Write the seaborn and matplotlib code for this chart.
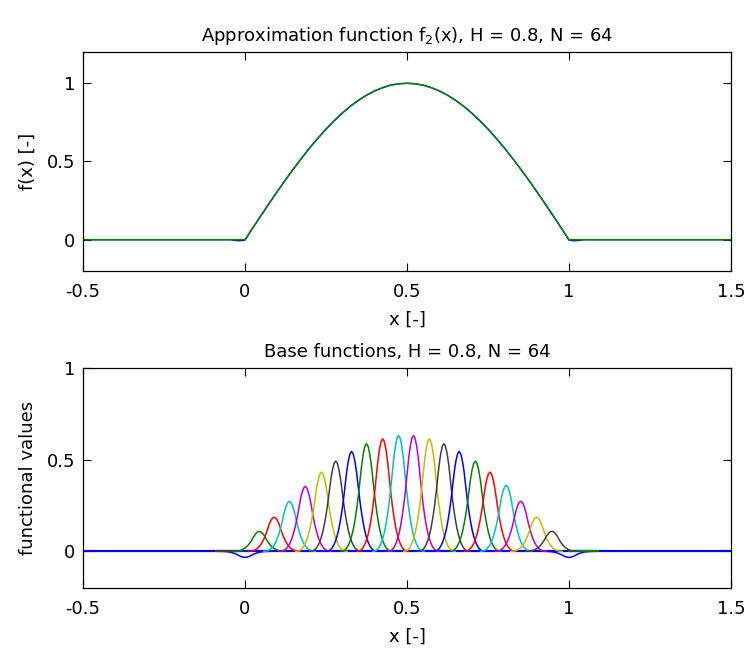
import numpy as np
import pandas as pd
import matplotlib
matplotlib.use("Agg")
import matplotlib.pyplot as plt
import seaborn as sns

# ---------------- data ----------------
x_ticks = [-0.5, 0, 0.5, 1, 1.5]
x_tick_labels = ["-0.5", "0", "0.5", "1", "1.5"]
y_ticks = [0, 0.5, 1]
y_tick_labels = ["0", "0.5", "1"]

# exact function f2(x)
f_x = [-0.5, 0.0, 0.025, 0.05, 0.075, 0.1, 0.125, 0.15, 0.175, 0.2, 0.225, 0.25,
       0.275, 0.3, 0.325, 0.35, 0.375, 0.4, 0.425, 0.45, 0.475, 0.5,
       0.525, 0.55, 0.575, 0.6, 0.625, 0.65, 0.675, 0.7, 0.725, 0.75,
       0.775, 0.8, 0.825, 0.85, 0.875, 0.9, 0.925, 0.95, 0.975, 1.0, 1.5]
f_y = [0.0, 0.0, 0.078, 0.156, 0.233, 0.309, 0.383, 0.454, 0.522, 0.588, 0.649, 0.707,
       0.760, 0.809, 0.853, 0.891, 0.924, 0.951, 0.972, 0.988, 0.997, 1.0,
       0.997, 0.988, 0.972, 0.951, 0.924, 0.891, 0.853, 0.809, 0.760, 0.707,
       0.649, 0.588, 0.522, 0.454, 0.383, 0.309, 0.233, 0.156, 0.078, 0.0, 0.0]

# approximation (blue, mostly hidden under the exact curve)
approx_x = [-0.5, -0.045, -0.03, -0.015, 0.0, 0.025, 0.05, 0.075, 0.1, 0.125, 0.15, 0.175,
            0.2, 0.225, 0.25, 0.275, 0.3, 0.325, 0.35, 0.375, 0.4, 0.425, 0.45, 0.475, 0.5,
            0.525, 0.55, 0.575, 0.6, 0.625, 0.65, 0.675, 0.7, 0.725, 0.75, 0.775, 0.8,
            0.825, 0.85, 0.875, 0.9, 0.925, 0.95, 0.975, 1.0, 1.015, 1.03, 1.045, 1.5]
approx_y = [0.0, 0.0, -0.005, -0.007, -0.003, 0.079, 0.156, 0.234, 0.309, 0.383, 0.454, 0.522,
            0.588, 0.649, 0.707, 0.760, 0.809, 0.853, 0.891, 0.924, 0.951, 0.972, 0.988, 0.997, 1.0,
            0.997, 0.988, 0.972, 0.951, 0.924, 0.891, 0.853, 0.809, 0.760, 0.707, 0.649, 0.588,
            0.522, 0.454, 0.383, 0.309, 0.234, 0.156, 0.079, -0.003, -0.007, -0.005, 0.0, 0.0]

# base functions (lower panel): peak positions, peak heights, colours
bump_centers = [0.044, 0.090, 0.137, 0.186, 0.236, 0.280, 0.329, 0.375, 0.425, 0.474,
                0.520, 0.569, 0.614, 0.661, 0.711, 0.756, 0.806, 0.851, 0.900, 0.947]
bump_heights = [0.108, 0.186, 0.273, 0.354, 0.432, 0.492, 0.545, 0.587, 0.614, 0.632,
                0.632, 0.614, 0.587, 0.545, 0.492, 0.432, 0.360, 0.273, 0.186, 0.109]
bump_colors = ["g", "r", "c", "m", "y", "k", "b", "g", "r", "c",
               "m", "y", "k", "b", "g", "r", "c", "m", "y", "k"]
dip_centers = [0.0, 1.0]
dip_heights = [-0.033, -0.033]

kernel_offsets = [-0.080, -0.075, -0.070, -0.065, -0.060, -0.055, -0.050, -0.045, -0.040,
                  -0.035, -0.030, -0.025, -0.020, -0.015, -0.010, -0.005, 0.000,
                  0.005, 0.010, 0.015, 0.020, 0.025, 0.030, 0.035, 0.040,
                  0.045, 0.050, 0.055, 0.060, 0.065, 0.070, 0.075, 0.080]
kernel_shape = [0.0, 0.0015, 0.006, 0.016, 0.035, 0.063, 0.100, 0.150, 0.215,
                0.300, 0.400, 0.520, 0.660, 0.800, 0.905, 0.975, 1.0,
                0.975, 0.905, 0.800, 0.660, 0.520, 0.400, 0.300, 0.215,
                0.150, 0.100, 0.063, 0.035, 0.016, 0.006, 0.0015, 0.0]

# flat edge segments visible on the zero line
seg_left_x = [-0.09, -0.01]
seg_right_x = [1.0, 1.09]
baseline_x = [-0.5, 1.5]

titles = ["Approximation function f$_2$(x), H = 0.8, N = 64",
          "Base functions, H = 0.8, N = 64"]
x_label = "x [-]"
y_labels = ["f(x) [-]", "functional values"]

# ---------------- style ----------------
sns.set_theme(style="white")
plt.rcParams["font.family"] = ["DejaVu Sans"]
plt.rcParams["mathtext.fontset"] = "dejavusans"
plt.rcParams["mathtext.default"] = "regular"
plt.rcParams["text.color"] = "black"
plt.rcParams["axes.labelcolor"] = "black"
plt.rcParams["xtick.color"] = "black"
plt.rcParams["ytick.color"] = "black"

mcol = {"b": (0, 0, 1), "g": (0, 0.5, 0), "r": (1, 0, 0), "c": (0, 0.75, 0.75),
        "m": (0.75, 0, 0.75), "y": (0.75, 0.75, 0), "k": (0.25, 0.25, 0.25)}

FS = 13
fig = plt.figure(figsize=(7.47, 6.5), dpi=100)
ax1 = fig.add_axes([0.1111, 0.5831, 0.8675, 0.3369])
ax2 = fig.add_axes([0.1111, 0.0954, 0.8675, 0.3385])

# upper panel
sns.lineplot(x=approx_x, y=approx_y, ax=ax1, color=mcol["b"], lw=1.0,
             sort=False, estimator=None)
sns.lineplot(x=f_x, y=f_y, ax=ax1, color=mcol["g"], lw=1.1,
             sort=False, estimator=None)
ax1.set_ylim(-0.2, 1.2)
ax1.set_ylabel(y_labels[0], fontsize=FS, labelpad=7)

# lower panel
sns.lineplot(x=baseline_x, y=[0, 0], ax=ax2, color=mcol["b"], lw=1.6,
             sort=False, estimator=None)
ko = np.array(kernel_offsets)
ks = np.array(kernel_shape)
for c, h in zip(dip_centers, dip_heights):
    sns.lineplot(x=c + ko, y=h * ks, ax=ax2, color=mcol["b"], lw=1.1,
                 sort=False, estimator=None)
sns.lineplot(x=seg_left_x, y=[0, 0], ax=ax2, color=mcol["k"], lw=1.6,
             sort=False, estimator=None)
sns.lineplot(x=seg_right_x, y=[0, 0], ax=ax2, color=mcol["g"], lw=1.6,
             sort=False, estimator=None)
rows = []
for i, (c, h) in enumerate(zip(bump_centers, bump_heights)):
    for o, s in zip(kernel_offsets, kernel_shape):
        rows.append({"x": c + o, "y": h * s, "func": i})
bumps = pd.DataFrame(rows)
sns.lineplot(data=bumps, x="x", y="y", hue="func", hue_order=list(range(len(bump_centers))),
             palette=[mcol[k] for k in bump_colors], ax=ax2, lw=1.1,
             sort=False, estimator=None, legend=False)
ax2.set_ylim(-0.2, 1.0)
ax2.set_ylabel(y_labels[1], fontsize=FS, labelpad=7)

for ax, t in zip([ax1, ax2], titles):
    ax.set_xlim(-0.5, 1.5)
    ax.set_xticks(x_ticks)
    ax.set_xticklabels(x_tick_labels)
    ax.set_yticks(y_ticks)
    ax.set_yticklabels(y_tick_labels)
    ax.set_xlabel(x_label, fontsize=FS, labelpad=7)
    ax.set_title(t, fontsize=FS, pad=8)
    ax.tick_params(axis="x", direction="in", length=6, width=0.8, top=True, bottom=True,
                   labelsize=FS, pad=9, color="black", labelcolor="black")
    ax.tick_params(axis="y", direction="in", length=6, width=0.8, left=True, right=True,
                   labelsize=FS, pad=5.5, color="black", labelcolor="black")
    for sp in ax.spines.values():
        sp.set_visible(True)
        sp.set_color("black")
        sp.set_linewidth(0.9)
    ax.set_facecolor("white")
    ax.grid(False)

fig.patch.set_facecolor("white")
fig.savefig("out.png", dpi=100, facecolor="white")
